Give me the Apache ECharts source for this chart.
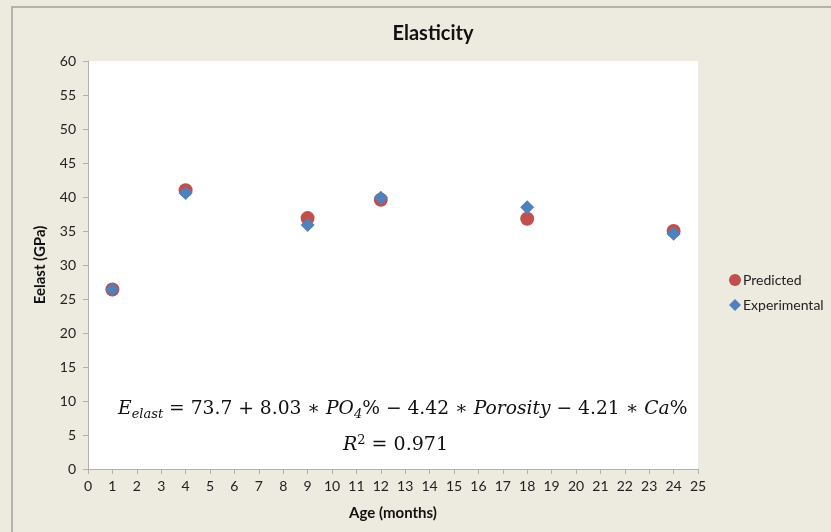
<!DOCTYPE html>
<html><head><meta charset="utf-8">
<script src="https://cdn.jsdelivr.net/npm/echarts@6/dist/echarts.min.js"></script>
<style>html,body{margin:0;padding:0;background:#EDEADF;}#c{width:831px;height:532px;}</style>
</head><body><div id="c"></div>
<script>
const ages = [1, 4, 9, 12, 18, 24];
const predicted = [26.4, 41.0, 36.9, 39.6, 36.8, 35.0];
const experimental = [26.4, 40.6, 35.9, 39.9, 38.5, 34.6];
const xTicks = {min: 0, max: 25, interval: 1};
const yTicks = {min: 0, max: 60, interval: 5};
const titleText = 'Elasticity';
const xName = 'Age (months)';
const yName = 'Eelast (GPa)';
const seriesNames = ['Predicted', 'Experimental'];

const chart = echarts.init(document.getElementById('c'));
const lab = {color: '#222', fontFamily: 'Lato, Noto Sans, sans-serif', fontSize: 14};
const mathF = 'DejaVu Serif, Liberation Serif, serif';
chart.setOption({
  backgroundColor: '#EDEADF',
  animation: false,
  title: {text: titleText, left: 428, top: 19, textAlign: 'center',
    textStyle: {fontFamily: 'Lato, sans-serif', fontWeight: 'bold', fontSize: 20, color: '#111'}},
  grid: {left: 88, right: 133, top: 61, bottom: 63, show: true, backgroundColor: '#fff', borderWidth: 0},
  legend: {orient: 'vertical', left: 724, top: 268, itemGap: 11, itemWidth: 12, itemHeight: 12,
    textStyle: {color: '#222', fontFamily: 'Lato, sans-serif', fontSize: 14, padding: [0,0,0,-3]},
    data: [{name: seriesNames[0], icon: 'circle'}, {name: seriesNames[1], icon: 'diamond'}]},
  xAxis: {type: 'value', min: xTicks.min, max: xTicks.max, interval: xTicks.interval,
    name: xName, nameLocation: 'middle', nameGap: 37,
    nameTextStyle: {fontFamily: 'Lato, sans-serif', fontWeight: 'bold', fontSize: 15, color: '#111'},
    axisLine: {lineStyle: {color: '#B0B0B0'}}, axisTick: {show: true, length: 5, lineStyle: {color: '#B0B0B0'}},
    axisLabel: Object.assign({margin: 10}, lab), splitLine: {show: false}},
  yAxis: {type: 'value', min: yTicks.min, max: yTicks.max, interval: yTicks.interval,
    name: yName, nameLocation: 'middle', nameGap: 40,
    nameTextStyle: {fontFamily: 'Lato, sans-serif', fontWeight: 'bold', fontSize: 15, color: '#111'},
    axisLine: {show: true, lineStyle: {color: '#B0B0B0'}}, axisTick: {show: true, length: 5, lineStyle: {color: '#B0B0B0'}},
    axisLabel: Object.assign({margin: 12}, lab), splitLine: {show: false}},
  series: [
    {name: seriesNames[0], type: 'scatter', symbol: 'circle', symbolSize: 14, z: 2,
     itemStyle: {color: '#C0504D', opacity: 1}, data: ages.map((a, i) => [a, predicted[i]])},
    {name: seriesNames[1], type: 'scatter', symbol: 'diamond', symbolSize: 14, z: 3,
     itemStyle: {color: '#4F81BD', opacity: 1}, data: ages.map((a, i) => [a, experimental[i]])}
  ],
  graphic: [
    {type: 'rect', shape: {x: 12, y: 7, width: 900, height: 600}, style: {fill: 'none', stroke: '#A0A0A0', lineWidth: 1.5}, z: -1, silent: true},
    {type: 'text', left: 118, top: 400, style: {
      text: '{i|E}{s|elast}{u| = 73.7 + 8.03 ∗ }{i|PO}{s|4}{u|% − 4.42 ∗ }{i|Porosity}{u| − 4.21 ∗ }{i|Ca}{u|%}',
      rich: {
        i: {fontFamily: mathF, fontStyle: 'italic', fontSize: 18.7, fill: '#111'},
        u: {fontFamily: mathF, fontSize: 18.7, fill: '#111'},
        s: {fontFamily: mathF, fontStyle: 'italic', fontSize: 13, fill: '#111', padding: [10, 0, 0, 0]}
      }}},
    {type: 'text', top: 434, left: 343, style: {
      text: '{i|R}{p|2}{u| = 0.971}',
      rich: {
        i: {fontFamily: mathF, fontStyle: 'italic', fontSize: 19, fill: '#111'},
        u: {fontFamily: mathF, fontSize: 19, fill: '#111'},
        p: {fontFamily: mathF, fontSize: 13, fill: '#111', padding: [0, 0, 10, 0]}
      }}}
  ]
});
</script></body></html>
